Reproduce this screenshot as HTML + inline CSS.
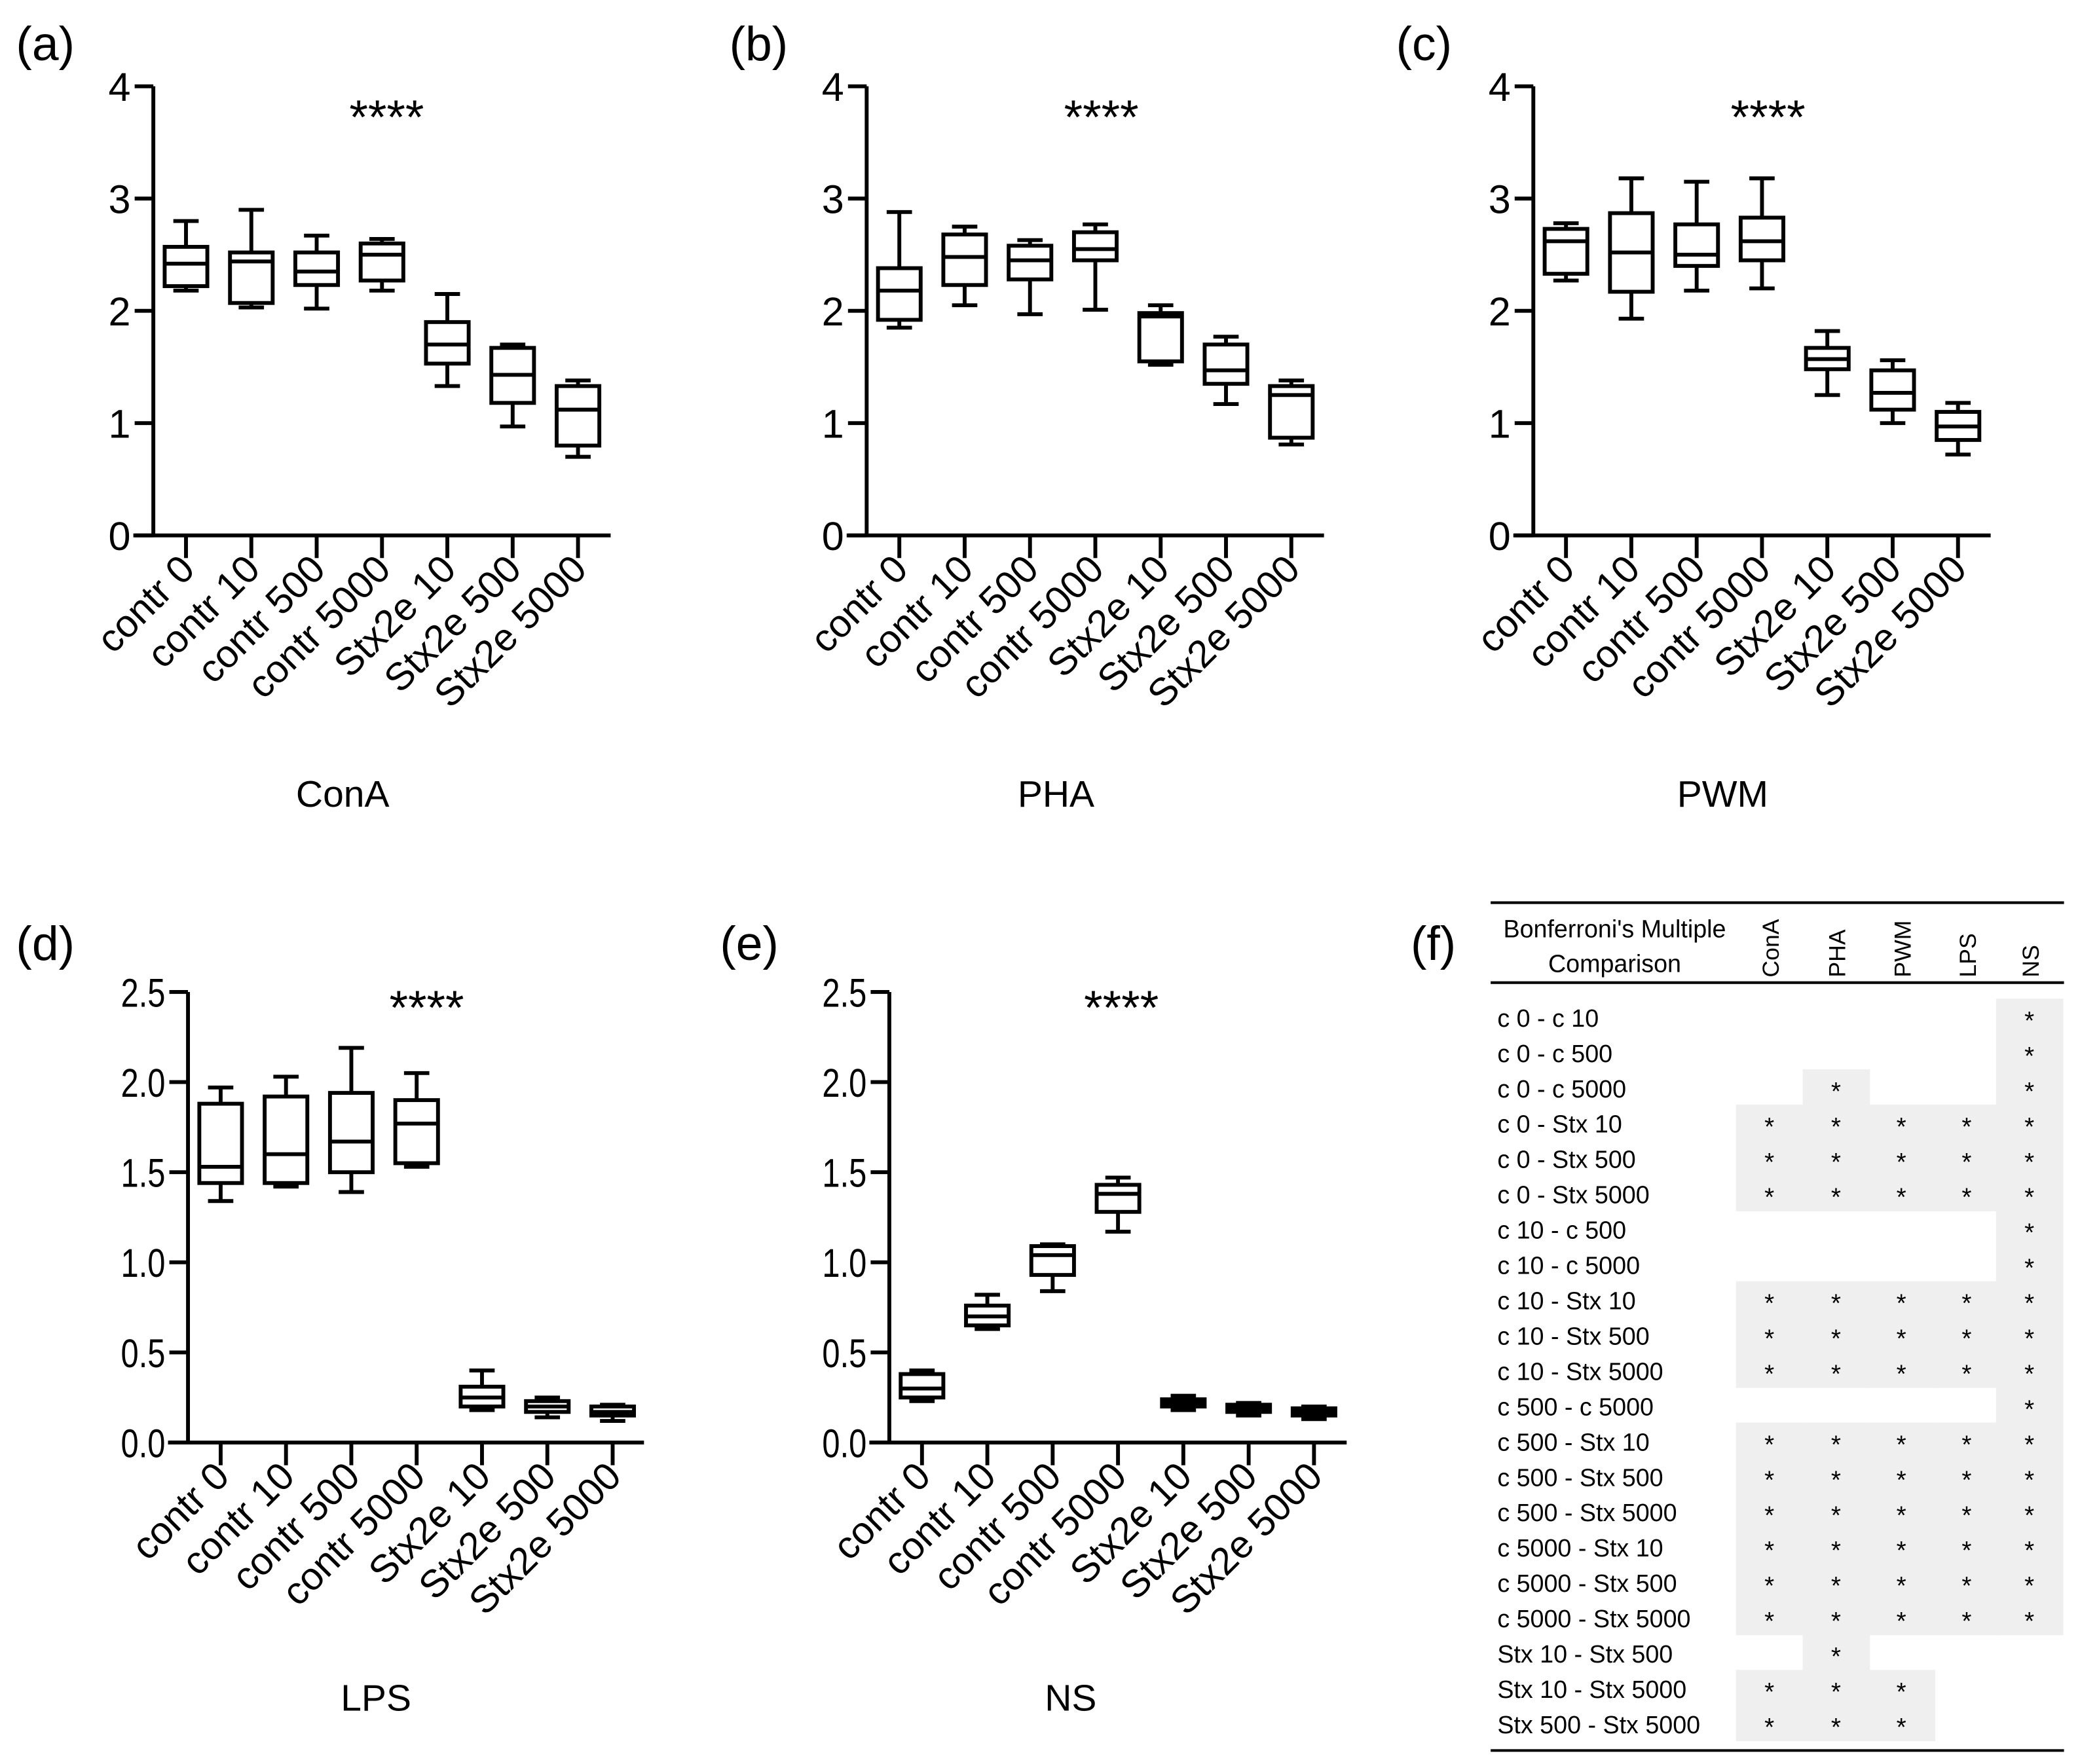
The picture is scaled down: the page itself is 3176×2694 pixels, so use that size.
<!DOCTYPE html>
<html><head><meta charset="utf-8"><style>
html,body{margin:0;padding:0;background:#fff}
svg{display:block;font-family:"Liberation Sans",Arial,sans-serif}
</style></head><body>
<svg id="fig" width="3176" height="2694" viewBox="0 0 1560 1323" xmlns="http://www.w3.org/2000/svg">
<rect width="1560" height="1323" fill="#fff"/>
<g id="charts"></g>
<g id="table"></g>
</svg>
<script>
const categories = ["contr 0","contr 10","contr 500","contr 5000","Stx2e 10","Stx2e 500","Stx2e 5000"];
// [min, q1, median, q3, max]
const conA = [[2.18,2.22,2.42,2.57,2.8],[2.03,2.07,2.44,2.52,2.9],[2.02,2.23,2.35,2.52,2.67],[2.18,2.27,2.5,2.6,2.64],[1.33,1.53,1.7,1.9,2.15],[0.97,1.18,1.43,1.67,1.7],[0.7,0.8,1.12,1.33,1.38]];
const pha = [[1.85,1.92,2.18,2.38,2.88],[2.05,2.23,2.48,2.68,2.75],[1.97,2.28,2.45,2.58,2.63],[2.01,2.45,2.55,2.7,2.77],[1.52,1.55,1.95,1.98,2.05],[1.17,1.35,1.47,1.7,1.77],[0.81,0.87,1.25,1.33,1.38]];
const pwm = [[2.27,2.33,2.62,2.73,2.78],[1.93,2.17,2.52,2.87,3.18],[2.18,2.4,2.5,2.77,3.15],[2.2,2.45,2.62,2.83,3.18],[1.25,1.48,1.57,1.67,1.82],[1.0,1.12,1.27,1.47,1.56],[0.72,0.85,0.97,1.1,1.18]];
const lps = [[1.34,1.44,1.53,1.88,1.97],[1.42,1.44,1.6,1.92,2.03],[1.39,1.5,1.67,1.94,2.19],[1.53,1.55,1.77,1.9,2.05],[0.18,0.2,0.25,0.31,0.4],[0.14,0.17,0.2,0.23,0.25],[0.12,0.15,0.17,0.2,0.21]];
const ns = [[0.23,0.25,0.3,0.38,0.4],[0.63,0.65,0.7,0.76,0.82],[0.84,0.93,1.04,1.09,1.1],[1.17,1.28,1.38,1.43,1.47],[0.18,0.2,0.22,0.24,0.26],[0.15,0.17,0.19,0.21,0.22],[0.13,0.15,0.17,0.19,0.2]];
const ticksA = ["0","1","2","3","4"];
const ticksD = ["0.0","0.5","1.0","1.5","2.0","2.5"];
const tableRows = ["c 0 - c 10","c 0 - c 500","c 0 - c 5000","c 0 - Stx 10","c 0 - Stx 500","c 0 - Stx 5000","c 10 - c 500","c 10 - c 5000","c 10 - Stx 10","c 10 - Stx 500","c 10 - Stx 5000","c 500 - c 5000","c 500 - Stx 10","c 500 - Stx 500","c 500 - Stx 5000","c 5000 - Stx 10","c 5000 - Stx 500","c 5000 - Stx 5000","Stx 10 - Stx 500","Stx 10 - Stx 5000","Stx 500 - Stx 5000"];
const tableCols = ["ConA","PHA","PWM","LPS","NS"];
const sig = ["00001","00001","01001","11111","11111","11111","00001","00001","11111","11111","11111","00001","11111","11111","11111","11111","11111","11111","01000","11100","11100"];

const NS_="http://www.w3.org/2000/svg";
function mk(tag, attrs, parent){const e=document.createElementNS(NS_,tag);for(const k in attrs)e.setAttribute(k,attrs[k]);parent.appendChild(e);return e;}
const root=document.getElementById('charts');

const panels=[
 {id:'a',lab:'(a)',lx:12,ly:45,ax:115,yTop:64.6,yBot:401.5,ymax:4,ticks:ticksA,data:conA,title:'ConA',tx:257,ty:605,sx:290,sy:100,xEnd:458},
 {id:'b',lab:'(b)',lx:547,ly:45,ax:650,yTop:64.6,yBot:401.5,ymax:4,ticks:ticksA,data:pha,title:'PHA',tx:792,ty:605,sx:826,sy:100,xEnd:993},
 {id:'c',lab:'(c)',lx:1047,ly:45,ax:1150,yTop:64.6,yBot:401.5,ymax:4,ticks:ticksA,data:pwm,title:'PWM',tx:1292,ty:605,sx:1326,sy:100,xEnd:1493},
 {id:'d',lab:'(d)',lx:12,ly:720,ax:141,yTop:744,yBot:1082,ymax:2.5,ticks:ticksD,data:lps,title:'LPS',tx:282,ty:1283,sx:320,sy:768,xEnd:483},
 {id:'e',lab:'(e)',lx:540,ly:720,ax:667,yTop:744,yBot:1082,ymax:2.5,ticks:ticksD,data:ns,title:'NS',tx:803,ty:1283,sx:841,sy:768,xEnd:1010}
];
panels.forEach(p=>{
 const g=mk('g',{},root);
 
 
 const y=v=>p.yBot-(v/p.ymax)*(p.yBot-p.yTop);
 const x=i=>p.ax+24.5+i*49;
 const lbl=mk('text',{x:p.lx,y:p.ly,'font-size':36},g);lbl.textContent=p.lab;
 
 
 const ax=mk('g',{stroke:'#000','stroke-width':2.9,fill:'none'},g);
 
 
 mk('line',{x1:p.ax,y1:p.yTop,x2:p.ax,y2:p.yBot},ax);
 mk('line',{x1:p.ax-15,y1:p.yBot,x2:p.xEnd,y2:p.yBot},ax);
 p.ticks.forEach((t,i)=>{
   const v=i*(p.ymax/(p.ticks.length-1));
   mk('line',{x1:p.ax-14,y1:y(v),x2:p.ax,y2:y(v)},ax);
   const tt=mk('text',{x:p.ax-17,y:y(v)+11,'font-size':p.ymax===4?30:30,'text-anchor':'end'},g);
   if(p.ymax!==4) tt.setAttribute('transform',`translate(${p.ax-17},0) scale(0.8,1) translate(${-(p.ax-17)},0)`);
   tt.textContent=t;
   
   
 });
 categories.forEach((c,i)=>{
   mk('line',{x1:x(i),y1:p.yBot,x2:x(i),y2:p.yBot+17},ax);
   const cx=x(i)+8, cy=p.yBot+27;
   const t=mk('text',{x:cx,y:cy,'font-size':29,'text-anchor':'end',transform:`rotate(-45 ${cx} ${cy})`},g);
   t.textContent=c;
   
   
   const d=p.data[i];
   const bg=mk('g',{stroke:'#000','stroke-width':2.9,fill:'#fff'},g);
   
   
   const hw=16, cw=9.5;
   mk('line',{x1:x(i),y1:y(d[0]),x2:x(i),y2:y(d[4])},bg);
   mk('line',{x1:x(i)-cw,y1:y(d[0]),x2:x(i)+cw,y2:y(d[0])},bg);
   mk('line',{x1:x(i)-cw,y1:y(d[4]),x2:x(i)+cw,y2:y(d[4])},bg);
   mk('rect',{x:x(i)-hw,y:y(d[3]),width:2*hw,height:Math.max(0.5,y(d[1])-y(d[3]))},bg);
   mk('line',{x1:x(i)-hw,y1:y(d[2]),x2:x(i)+hw,y2:y(d[2])},bg);
 });
 const st=mk('text',{x:p.sx,y:p.sy,'font-size':36,'text-anchor':'middle'},g);st.textContent='****';
 
 
 const ti=mk('text',{x:p.tx,y:p.ty,'font-size':28,'text-anchor':'middle'},g);ti.textContent=p.title;
 
 
});

// table (f)
const tb=document.getElementById('table');
const fl=mk('text',{x:1058,y:720,'font-size':36},tb);fl.textContent='(f)';


const colX=[1327,1377,1426,1475,1522];
const r0=763, pitch=26.5;
sig.forEach((s,r)=>{
  for(let c=0;c<5;c++){
    if(s[c]==='1'){
      const cell=mk('rect',{x:colX[c]-25,y:r0+r*pitch-14,width:50.5,height:pitch+0.5,fill:'#efefef'},tb);
      
      
      const a=mk('text',{x:colX[c],y:r0+r*pitch+9,'font-size':19,'text-anchor':'middle'},tb);a.textContent='*';
      
      
    }
  }
});
tableRows.forEach((t,r)=>{
  const e=mk('text',{x:1123,y:r0+r*pitch+7,'font-size':18.5},tb);e.textContent=t;
  
  
});
tableCols.forEach((t,c)=>{
  const e=mk('text',{x:colX[c]+7,y:733,'font-size':17.5,transform:`rotate(-90 ${colX[c]+7} 733)`},tb);e.textContent=t;
  
  
});
const h1=mk('text',{x:1211,y:703,'font-size':18.5,'text-anchor':'middle'},tb);h1.textContent="Bonferroni's Multiple";


const h2=mk('text',{x:1211,y:729,'font-size':18.5,'text-anchor':'middle'},tb);h2.textContent="Comparison";


[677,737,1313].forEach(yy=>{
  const l=mk('line',{x1:1118,y1:yy,x2:1548,y2:yy,stroke:'#000','stroke-width':2},tb);
  
  
});
</script>
</body></html>
